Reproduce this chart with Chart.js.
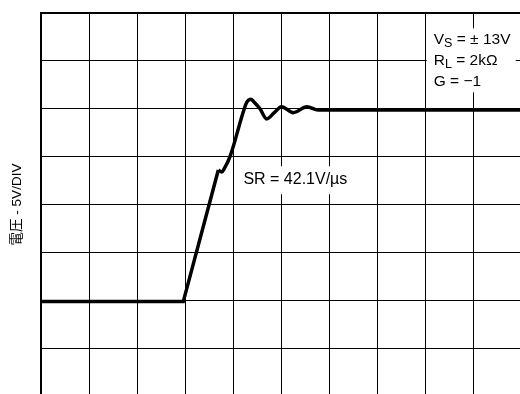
<!DOCTYPE html>
<html lang="ja">
<head>
<meta charset="UTF-8">
<title>Slew rate</title>
<script src="https://cdn.jsdelivr.net/npm/chart.js@4.4.0/dist/chart.umd.min.js"></script>
<style>
    html, body {
        margin: 0;
        padding: 0;
        background: #fff;
        overflow: hidden;
    }
    #wrap {
        width: 520px;
        height: 394px;
        overflow: hidden;
    }
    canvas { display: block; }
</style>
</head>
<body>
<div id="wrap">
    <canvas id="scope" width="522" height="396"></canvas>
</div>

<script>
    // time in divisions, voltage in V (5V/DIV)
    // straight part: flat input level then the ramp up to the kink
    const edgeTime  = [0, 2.958, 3.688];
    const edgeVolts = [-10.14, -10.14, 3.61];

    // kink, overshoot and ringing, then the settled level
    const settleTime  = [3.688, 3.758, 3.827, 3.931, 4.229, 4.285, 4.363, 4.431, 4.556, 4.696, 4.848, 5.004, 5.25, 5.535, 5.765, 10.1];
    const settleVolts = [3.61, 3.40, 3.89, 5.0, 10.0, 10.71, 11.0, 10.71, 10.0, 8.94, 9.56, 10.22, 9.59, 10.22, 9.87, 9.87];

    const yLabel = '電圧 - 5V/DIV';
    const srText = 'SR = 42.1V/µs';
    // condition lines: [main, subscript, rest]
    const conditions = [
        ['V', 'S', ' = ± 13V'],
        ['R', 'L', ' = 2kΩ'],
        ['G', '', ' = −1']
    ];

    function toPoints(xs, ys) {
        return xs.map((x, i) => ({ x: x, y: ys[i] }));
    }

    const FONT = '"Liberation Sans", Arial, sans-serif';

    // white label boxes drawn over the grid
    const labels = {
        id: 'labels',
        afterDatasetsDraw(chart) {
            const ctx = chart.ctx;
            const xs = chart.scales.x;
            const ys = chart.scales.y;
            ctx.save();
            ctx.font = '16px ' + FONT;
            ctx.textBaseline = 'alphabetic';
            ctx.fillStyle = '#000';

            // slew rate label
            let sx = xs.getPixelForValue(4.21);
            let sy = ys.getPixelForValue(2.11);
            let w = ctx.measureText(srText).width;
            ctx.fillStyle = '#fff';
            ctx.fillRect(sx - 5, sy - 18, w + 8, 28);
            ctx.fillStyle = '#000';
            ctx.fillText(srText, sx, sy);

            // test conditions
            let bx = xs.getPixelForValue(8.03);
            let by = ys.getPixelForValue(18.4);
            ctx.fillStyle = '#fff';
            ctx.fillRect(bx, by, 89, 64);
            ctx.fillStyle = '#000';
            let tx = bx + 7;
            conditions.forEach((c, i) => {
                let base = by + 15.5 + i * 21;
                let x = tx;
                ctx.font = '15.5px ' + FONT;
                ctx.fillText(c[0], x, base);
                x += ctx.measureText(c[0]).width;
                if (c[1]) {
                    ctx.font = '12.5px ' + FONT;
                    ctx.fillText(c[1], x, base + 3);
                    x += ctx.measureText(c[1]).width;
                }
                ctx.font = '15.5px ' + FONT;
                ctx.fillText(c[2], x, base);
            });
            ctx.restore();
        }
    };

    const ctx = document.getElementById('scope').getContext('2d');
    new Chart(ctx, {
        type: 'line',
        data: {
            datasets: [{
                data: toPoints(edgeTime, edgeVolts),
                borderColor: '#000',
                borderWidth: 3.5,
                pointRadius: 0,
                tension: 0,
                fill: false
            }, {
                data: toPoints(settleTime, settleVolts),
                borderColor: '#000',
                borderWidth: 3.5,
                pointRadius: 0,
                cubicInterpolationMode: 'monotone',
                fill: false
            }]
        },
        options: {
            responsive: false,
            animation: false,
            devicePixelRatio: 1,
            layout: { padding: { top: 13, right: 0.7, bottom: 0, left: 0 } },
            plugins: {
                legend: { display: false },
                tooltip: { enabled: false }
            },
            scales: {
                x: {
                    type: 'linear',
                    min: 0,
                    max: 10,
                    ticks: { display: false, stepSize: 1 },
                    grid: { color: '#000', lineWidth: 1, drawTicks: false },
                    border: { display: false },
                    afterFit: s => { s.height = 0; }
                },
                y: {
                    min: -20,
                    max: 20,
                    ticks: { display: false, stepSize: 5 },
                    grid: {
                        color: '#000',
                        lineWidth: c => (c.tick && c.tick.value === 20 ? 2 : 1),
                        drawTicks: false
                    },
                    border: { display: true, color: '#000', width: 2 },
                    title: {
                        display: true,
                        text: yLabel,
                        color: '#000',
                        font: { family: FONT + ', "Noto Sans CJK JP"', size: 13.5 },
                        padding: { top: 9, bottom: 0 }
                    },
                    afterFit: s => { s.width = 41.3; }
                }
            }
        },
        plugins: [labels]
    });
</script>
</body>
</html>
